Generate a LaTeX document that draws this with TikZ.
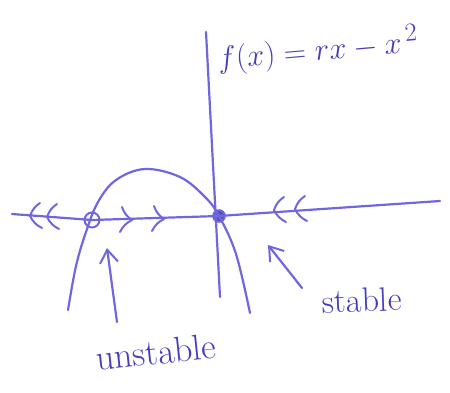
\documentclass[tikz,border=0pt]{standalone}
\usepackage{tikz}
\usetikzlibrary{arrows.meta,positioning,calc}
\definecolor{pen}{RGB}{112,102,224}
\definecolor{ink}{RGB}{70,60,188}

\begin{document}
\begin{tikzpicture}[x=1pt, y=-1pt,
    pen/.style={draw=pen, line width=2.2pt, line cap=round, line join=round},
    chev/.style={pen, line width=2pt},
    barb/.style={pen, -{Straight Barb[length=13pt, width=18pt, line width=2pt]}},
    open_pt/.style={circle, draw=pen, line width=2pt, minimum width=13pt, minimum height=15pt, inner sep=0pt},
    full_pt/.style={circle, draw=pen, fill=pen!80!black, line width=1.6pt, minimum size=12pt, inner sep=0pt},
    label/.style={text=ink, font=\fontsize{36}{36}\selectfont, inner sep=0pt}]
    \useasboundingbox (0,0) rectangle (450,392);

    % fixed points
    \node [open_pt] (unst) at (92,220) {};
    \node [full_pt] (stab) at (219,216) {};

    % axes
    \coordinate (x_left) at (12,214);
    \coordinate (x_right) at (440,201);
    \coordinate (y_top) at (206,32);
    \coordinate (y_bot) at (220,297);
    \draw [pen] (x_left) -- (unst.center) -- (stab.center) -- (x_right);
    \draw [pen] (y_top) -- (y_bot);

    % f(x) = rx - x^2
    \draw [pen] plot [smooth, tension=0.6] coordinates {(68,310) (76,266) (86,232) (98,202) (116,180) (145,169) (180,177) (205,197) (219,216) (236,254) (250,313)};

    % flow chevrons
    \foreach \cx/\cy/\d in {30/216/1, 47/217/1, 274/210/1, 295/209/1, 132/220/-1, 164/219/-1}
        \draw [chev] ($(\cx,\cy)+(10*\d,-13)$) to[bend right=18] (\cx,\cy) to[bend right=18] ($(\cx,\cy)+(12*\d,12)$);

    % labels
    \node [label, rotate=5, scale=1.25, font=\fontsize{24.88}{26}\selectfont] (func) at (318,50) {$f(x) = rx - x^{\,2}$};
    \node [label, rotate=6] (unst_lbl) at (156,352) {unstable};
    \node [label, rotate=2, font=\fontsize{34}{34}\selectfont] (stab_lbl) at (362,300) {stable};

    % pointers
    \coordinate (unst_tail) at (117,322);
    \coordinate (unst_tip) at (107,248);
    \coordinate (stab_tail) at (302,288);
    \coordinate (stab_tip) at (268,245);
    \draw [barb] (unst_tail) -- (unst_tip);
    \draw [barb] (stab_tail) -- (stab_tip);
\end{tikzpicture}
\end{document}
